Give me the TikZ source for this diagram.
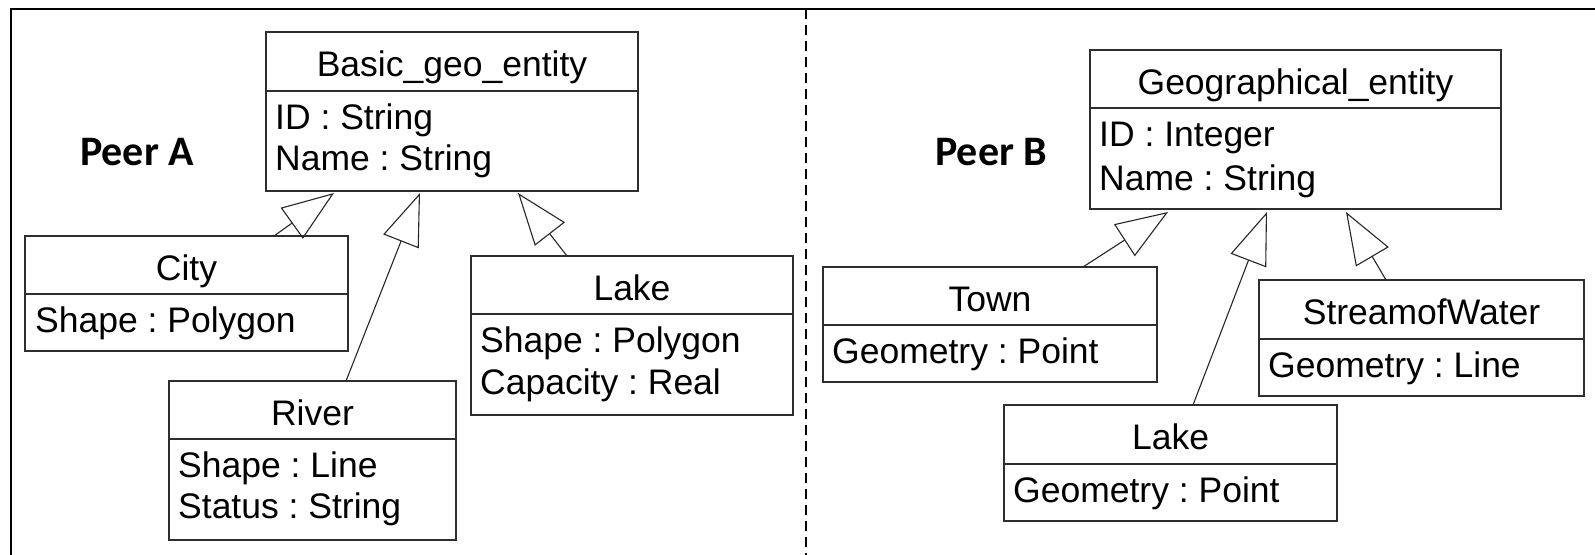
\documentclass[tikz,border=0pt]{standalone}
\usepackage{fontspec}
\setmainfont{Liberation Sans}
\newfontfamily\peerfont{Carlito}
\usetikzlibrary{arrows.meta,calc}

% A UML class: name, left, top, right, separator, bottom, title
\newcommand\umlclass[7]{%
  \node[classbox,minimum width={#4-#2},minimum height={#6-#3}] (#1) at (#2,#3) {};
  \draw[classline] (#2,#5) -- (#4,#5);
  \node[classtitle] (#1-title) at ({(#2+#4)/2},{#3+44}) {#7};
}

\begin{document}
\frenchspacing
\begin{tikzpicture}[x=1pt,y=-1pt,
  frame/.style={line width=2.6pt,black},
  divider/.style={line width=2.6pt,black,dash pattern=on 10pt off 6pt},
  classbox/.style={draw=black!82,line width=1.3pt,inner sep=0pt,outer sep=0pt,anchor=north west},
  classline/.style={draw=black!82,line width=1.3pt},
  classtitle/.style={font=\fontsize{35.5}{40}\selectfont,inner sep=0pt,anchor=base},
  attr/.style={font=\fontsize{35.5}{40}\selectfont,inner sep=0pt,anchor=base west},
  peer/.style={font=\peerfont\bfseries\fontsize{42}{48}\selectfont,inner sep=0pt,anchor=base west},
  gen/.style={draw=black!85,line width=1.1pt,-{Triangle[open,length=52pt,width=38pt]}}]
\useasboundingbox (0,0) rectangle (1595,554);

% outer frame and the dashed divider between the two peers
\draw[frame] (11,570) -- (11,9) -- (1610,9);
\draw[divider] (806,9) -- (806,570);

% Peer A
\node[peer] (peerA) at (80,165) {Peer A};
\umlclass{basic}{266}{32}{638}{91}{191}{Basic\_geo\_entity}
\node[attr] (basic-a1) at (275,129) {ID : String};
\node[attr] (basic-a2) at (275,170) {Name : String};

\umlclass{city}{25}{236}{348}{294}{351}{City}
\node[attr] (city-a1) at (35,332) {Shape : Polygon};

\umlclass{river}{169}{381}{456}{439}{540}{River}
\node[attr] (river-a1) at (178,477) {Shape : Line};
\node[attr] (river-a2) at (178,518) {Status : String};

\umlclass{lakeA}{471}{256}{793}{314}{415}{Lake}
\node[attr] (lakeA-a1) at (480,352) {Shape : Polygon};
\node[attr] (lakeA-a2) at (480,394) {Capacity : Real};

\draw[gen] ([xshift=249pt]city.north west) -- ([xshift=68pt,yshift=-2pt]basic.south west);
\draw[gen] ([xshift=177pt]river.north west) -- ([xshift=154pt,yshift=-2pt]basic.south west);
\draw[gen] ([xshift=96pt]lakeA.north west) -- ([xshift=252pt,yshift=-2pt]basic.south west);

% Peer B
\node[peer] (peerB) at (935,165) {Peer B};
\umlclass{geo}{1090}{50}{1501}{108}{209}{Geographical\_entity}
\node[attr] (geo-a1) at (1099,146) {ID : Integer};
\node[attr] (geo-a2) at (1099,190) {Name : String};

\umlclass{town}{823}{267}{1157}{325}{382}{Town}
\node[attr] (town-a1) at (832,363) {Geometry : Point};

\umlclass{stream}{1259}{280}{1584}{339}{396}{StreamofWater}
\node[attr] (stream-a1) at (1268,377) {Geometry : Line};

\umlclass{lakeB}{1004}{405}{1337}{464}{521}{Lake}
\node[attr] (lakeB-a1) at (1013,502) {Geometry : Point};

\draw[gen] ([xshift=260pt]town.north west) -- ([xshift=78pt,yshift=-3pt]geo.south west);
\draw[gen] ([xshift=189pt]lakeB.north west) -- ([xshift=177pt,yshift=-3pt]geo.south west);
\draw[gen] ([xshift=127pt]stream.north west) -- ([xshift=256pt,yshift=-3pt]geo.south west);
\end{tikzpicture}
\end{document}
